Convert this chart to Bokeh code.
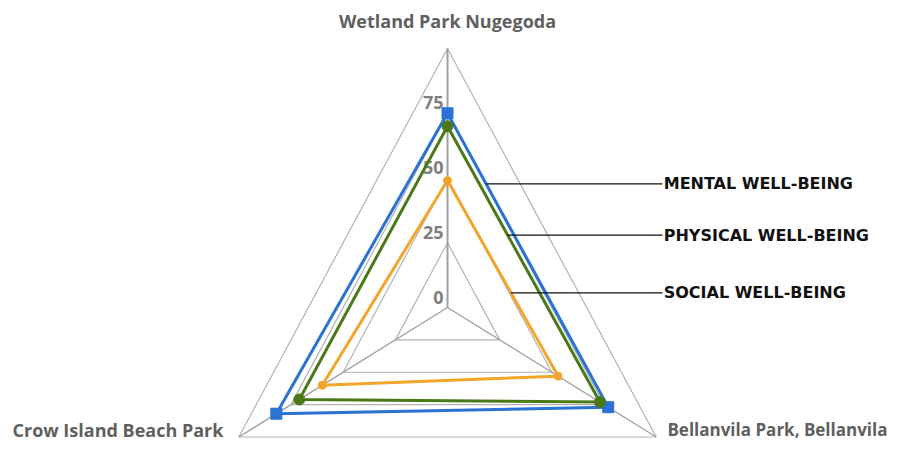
import math
from bokeh.plotting import figure
from bokeh.models import Range1d
from bokeh.embed import file_html
from bokeh.resources import INLINE
from bokeh.core.properties import value

# ---------------- data ----------------
parks = ["Wetland Park Nugegoda", "Crow Island Beach Park", "Bellanvila Park, Bellanvila"]
series_names = ["MENTAL WELL-BEING", "PHYSICAL WELL-BEING", "SOCIAL WELL-BEING"]
mental = [75, 82, 77]
physical = [70, 71, 73]
social = [49, 60, 53]
tick_values = [0, 25, 50, 75]
tick_labels = ["0", "25", "50", "75"]
ring_values = [25, 50, 75, 100]
max_value = 100

# ---------------- layout ----------------
W, H = 889, 441
CX, CY = 447, 307          # centre of radar in figure pixels (from top-left)
SX, SY = 2.41, 2.59        # pixels per value unit
angles = [math.radians(a) for a in (90, 210, 330)]

p = figure(width=W, height=H, output_backend="svg", toolbar_location=None,
           x_range=Range1d(-CX / SX, (W - CX) / SX),
           y_range=Range1d(-(H - CY) / SY, CY / SY),
           min_border=0, outline_line_color=None)
p.axis.visible = False
p.grid.visible = False
p.background_fill_color = "white"
p.border_fill_color = "white"


def pt(v, i):
    return v * math.cos(angles[i]), v * math.sin(angles[i])


# grid rings
rx, ry = [], []
for r in ring_values:
    xs = [pt(r, i)[0] for i in range(3)]
    ys = [pt(r, i)[1] for i in range(3)]
    rx.append(xs + [xs[0]])
    ry.append(ys + [ys[0]])
p.multi_line(rx, ry, line_color="#b3b3b3", line_width=1.2)

# spokes
for i in range(3):
    ex, ey = pt(max_value, i)
    p.segment(x0=[0], y0=[0], x1=[ex], y1=[ey], line_color="#a0a0a0",
              line_width=2 if i == 0 else 1.4)

# tick labels
p.text(x=[-1.6] * len(tick_values), y=[v + 4.0 for v in tick_values], text=tick_labels,
       text_align="right", text_baseline="middle", text_font=value("Open Sans"),
       text_font_style="bold", text_font_size="18px", text_color="#7f7f7f")

# series
series = [mental, physical, social]
colors = ["#2a72d4", "#4a7a17", "#f2a52a"]
markers = ["square", "circle", "circle"]
msizes = [11, 11, 8]
for vals, col, mk, ms in zip(series, colors, markers, msizes):
    xs = [pt(vals[i], i)[0] for i in range(3)]
    ys = [pt(vals[i], i)[1] for i in range(3)]
    p.line(xs + [xs[0]], ys + [ys[0]], line_color=col, line_width=3, line_join="round")
    p.scatter(xs, ys, marker=mk, size=ms, fill_color=col, line_color=col)

# leader-line legend
fracs = [0.24, 0.395, 0.574]
leg_x_end = (662 - CX) / SX
for vals, name, f in zip(series, series_names, fracs):
    tx, ty = pt(vals[0], 0)
    bx, by = pt(vals[2], 2)
    sx0 = tx + f * (bx - tx)
    sy0 = ty + f * (by - ty)
    p.segment(x0=[sx0], y0=[sy0], x1=[leg_x_end], y1=[sy0], line_color="#111111", line_width=1.2)
    p.text(x=[leg_x_end + 0.5], y=[sy0], text=[name], text_align="left", text_baseline="middle",
           text_font=value("DejaVu Sans"), text_font_style="bold", text_font_size="16px",
           text_color="#111111")

# category labels
cat_font = dict(text_font=value("Open Sans"), text_font_style="bold",
                text_color="#5f5f5f", text_baseline="middle")
p.text(x=[0], y=[(CY - 20) / SY], text=[parks[0]], text_align="center",
       text_font_size="18px", **cat_font)
p.text(x=[(12 - CX) / SX], y=[(CY - 429) / SY], text=[parks[1]], text_align="left",
       text_font_size="18px", **cat_font)
p.text(x=[(887 - CX) / SX], y=[(CY - 429) / SY], text=[parks[2]], text_align="right",
       text_font_size="17px", **cat_font)

open("out.html", "w").write(file_html(p, INLINE))
